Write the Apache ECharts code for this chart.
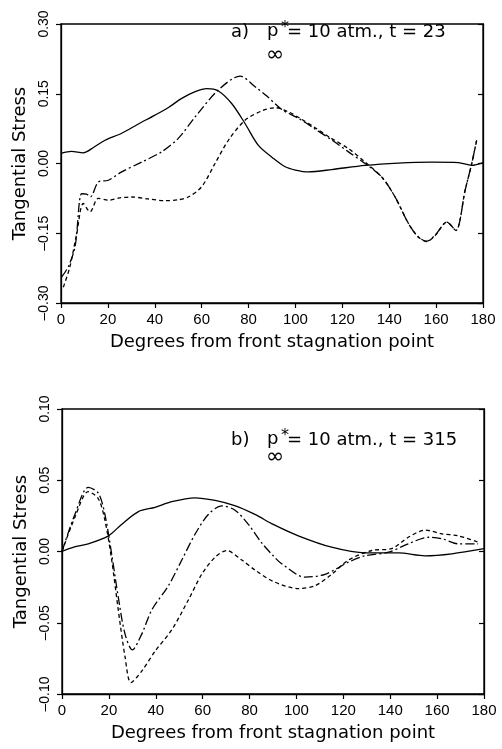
<!DOCTYPE html>
<html>
<head>
<meta charset="utf-8">
<script src="https://cdn.jsdelivr.net/npm/echarts@6/dist/echarts.min.js"></script>
<style>html,body{margin:0;padding:0;background:#fff}#c{width:502px;height:749px}</style>
</head>
<body>
<div id="c"></div>
<script>
// ---------- data ----------
const xTicks = [0, 20, 40, 60, 80, 100, 120, 140, 160, 180];
const topYTicks = [-0.30, -0.15, 0.00, 0.15, 0.30];
const botYTicks = [-0.10, -0.05, 0.00, 0.05, 0.10];

// Panel a) t = 23
const aSolidX = [0, 4.5, 9.5, 14, 18.8, 25.9, 33, 40.1, 46, 51.5, 57, 62.2, 67.1, 72.8, 78.5, 84.2, 90.6, 95.6, 100, 105.5, 115.5, 129.7, 143.9, 158.2, 169.5, 175.2, 180];
const aSolidY = [0.022, 0.026, 0.023, 0.035, 0.050, 0.065, 0.085, 0.104, 0.121, 0.140, 0.154, 0.161, 0.156, 0.129, 0.086, 0.039, 0.011, -0.007, -0.014, -0.018, -0.013, -0.004, 0.001, 0.003, 0.002, -0.004, 0.002];

const aDashDotX = [0.3, 3.1, 6, 8.8, 10.9, 12.5, 15.9, 20.2, 25.9, 34.4, 42.9, 50, 57.2, 67.1, 76.4, 82.8, 87.8, 94.2, 102, 108.4, 116, 122.6, 129.7, 136.8, 142.5, 148.2, 152.4, 156, 159.6, 164.6, 168.4, 172.4, 175.2, 177.3];
const aDashDotY = [-0.244, -0.222, -0.179, -0.065, -0.066, -0.072, -0.040, -0.036, -0.018, 0.003, 0.025, 0.054, 0.100, 0.158, 0.188, 0.165, 0.145, 0.116, 0.095, 0.074, 0.049, 0.025, 0.0, -0.029, -0.072, -0.129, -0.158, -0.167, -0.154, -0.126, -0.144, -0.057, 0.0, 0.050];

const aDashedX = [1, 3.8, 6.7, 9.5, 12.4, 15.9, 20.2, 25, 30.1, 37, 44.4, 50, 54.3, 60, 65.7, 71.4, 78.5, 85.6, 91.5, 97, 102, 108.4, 115, 122.6, 129.7, 136.8, 142.5, 148.2, 152.4, 156, 159.6, 164.6, 168.4, 172.4, 175.2, 177.3];
const aDashedY = [-0.266, -0.222, -0.151, -0.086, -0.104, -0.075, -0.079, -0.074, -0.072, -0.076, -0.080, -0.078, -0.072, -0.050, 0.0, 0.050, 0.093, 0.113, 0.120, 0.111, 0.097, 0.077, 0.055, 0.032, 0.003, -0.029, -0.072, -0.129, -0.158, -0.168, -0.155, -0.126, -0.144, -0.057, 0.0, 0.050];

// Panel b) t = 315
const bSolidX = [0, 5, 11.2, 19.8, 25.4, 32.6, 39.7, 46.8, 56.7, 65.3, 74, 82.3, 90.1, 100.8, 115, 129.3, 143.5, 154.9, 166.3, 180];
const bSolidY = [0.000, 0.003, 0.0054, 0.011, 0.019, 0.028, 0.031, 0.035, 0.0377, 0.0358, 0.032, 0.026, 0.019, 0.011, 0.003, -0.001, -0.001, -0.003, -0.0016, 0.002];

const bDashDotX = [0, 5.5, 11.2, 15.5, 18.3, 21.2, 24, 26.9, 30, 34, 38.3, 45.4, 51.1, 56.7, 62.4, 68.1, 73.8, 79.5, 85.2, 90.1, 93.7, 103.7, 112.2, 122.2, 129.3, 139.3, 147.7, 156.3, 162, 169, 177.5];
const bDashDotY = [0.0, 0.026, 0.045, 0.041, 0.026, -0.002, -0.032, -0.058, -0.069, -0.058, -0.041, -0.024, -0.006, 0.012, 0.026, 0.032, 0.029, 0.019, 0.006, -0.003, -0.0086, -0.018, -0.016, -0.0075, -0.003, -0.0005, 0.0054, 0.010, 0.009, 0.0054, 0.0054];

const bDashedX = [0, 5.5, 11.2, 15.5, 18.3, 21.2, 24, 26.9, 29.4, 34, 39.7, 46.8, 53.9, 59.6, 65.3, 70.2, 76.7, 82.3, 90.1, 100.8, 108, 115, 122.2, 132.1, 140.6, 147.7, 154.9, 162, 169, 177.5];
const bDashedY = [0, 0.024, 0.042, 0.037, 0.022, -0.006, -0.041, -0.074, -0.092, -0.084, -0.070, -0.055, -0.034, -0.016, -0.004, 0.0007, -0.006, -0.013, -0.021, -0.026, -0.024, -0.016, -0.006, 0.0007, 0.002, 0.010, 0.015, 0.0124, 0.011, 0.0066];

const xTitle = 'Degrees from front stagnation point';
const yTitle = 'Tangential Stress';

// ---------- chart ----------
const FONT = 'DejaVu Sans';
const TICKFONT = 'Liberation Sans';
const zip = (xs, ys) => xs.map((x, i) => [x, ys[i]]);
const fmtY = v => (v < 0 ? '\u2013' : '') + Math.abs(v).toFixed(2);

function xAx(gi) {
  return {
    type: 'value', gridIndex: gi, min: xTicks[0], max: xTicks[xTicks.length - 1], interval: 20,
    name: xTitle, nameLocation: 'middle', nameGap: 30,
    nameTextStyle: { fontFamily: FONT, fontSize: 18, color: '#000' },
    axisLine: { show: true, onZero: false, lineStyle: { color: '#000', width: 1.3 } },
    axisTick: { show: true, inside: false, length: 5, lineStyle: { color: '#000', width: 1.2 } },
    axisLabel: { fontFamily: TICKFONT, fontSize: 15, color: '#000', margin: 9 },
    splitLine: { show: false }
  };
}
function yAx(gi, lo, hi, step) {
  return {
    type: 'value', gridIndex: gi, min: lo, max: hi, interval: step, position: 'left',
    name: yTitle, nameLocation: 'middle', nameGap: 29,
    nameTextStyle: { fontFamily: FONT, fontSize: 18, color: '#000' },
    axisLine: { show: true, onZero: false, lineStyle: { color: '#000', width: 1.3 } },
    axisTick: { show: true, inside: false, length: 5, lineStyle: { color: '#000', width: 1.2 } },
    axisLabel: { rotate: 90, fontFamily: TICKFONT, fontSize: 14, color: '#000', margin: 10, formatter: fmtY },
    splitLine: { show: false }
  };
}
function yRight(gi, lo, hi, step) {
  return {
    type: 'value', gridIndex: gi, min: lo, max: hi, interval: step, position: 'right',
    axisLine: { show: true, onZero: false, lineStyle: { color: '#000', width: 1.3 } },
    axisTick: { show: true, inside: true, length: 5, lineStyle: { color: '#000', width: 1.2 } },
    axisLabel: { show: false }, splitLine: { show: false }
  };
}
function line(xi, yi, data, type) {
  return {
    type: 'line', xAxisIndex: xi, yAxisIndex: yi, data: data, showSymbol: false, smooth: 0.3,
    lineStyle: { color: '#000', width: 1.3, type: type }, z: 3
  };
}

function txt(x, y, s, size) {
  return { type: 'text', x: x, y: y, style: { text: s, fontFamily: FONT, fontSize: size, fill: '#000', verticalAlign: 'middle' } };
}

const chart = echarts.init(document.getElementById('c'), null, { renderer: 'canvas' });
chart.setOption({
  animation: false,
  backgroundColor: '#fff',
  grid: [
    { left: 61, right: 19, top: 24, height: 279, show: true, borderColor: '#000', borderWidth: 1.3, backgroundColor: 'transparent' },
    { left: 62, right: 18, top: 409, height: 285, show: true, borderColor: '#000', borderWidth: 1.3, backgroundColor: 'transparent' }
  ],
  xAxis: [xAx(0), xAx(1)],
  yAxis: [yAx(0, topYTicks[0], topYTicks[4], 0.15), yAx(1, botYTicks[0], botYTicks[4], 0.05),
          yRight(0, topYTicks[0], topYTicks[4], 0.15), yRight(1, botYTicks[0], botYTicks[4], 0.05)],
  series: [
    line(0, 0, zip(aSolidX, aSolidY), 'solid'),
    line(0, 0, zip(aDashDotX, aDashDotY), [9, 3, 2, 3]),
    line(0, 0, zip(aDashedX, aDashedY), [4, 3]),
    line(1, 1, zip(bSolidX, bSolidY), 'solid'),
    line(1, 1, zip(bDashDotX, bDashDotY), [9, 3, 2, 3]),
    line(1, 1, zip(bDashedX, bDashedY), [4, 3])
  ],
  graphic: [
    txt(231, 32, 'a)', 18), txt(267, 31, 'p', 18), txt(281, 28, '*', 16), txt(266, 55, '\u221E', 22), txt(287, 32, '= 10 atm., t = 23', 18),
    txt(231, 440, 'b)', 18), txt(267, 439, 'p', 18), txt(281, 436, '*', 16), txt(266, 457, '\u221E', 22), txt(287, 440, '= 10 atm., t = 315', 18)
  ]
});
</script>
</body>
</html>
